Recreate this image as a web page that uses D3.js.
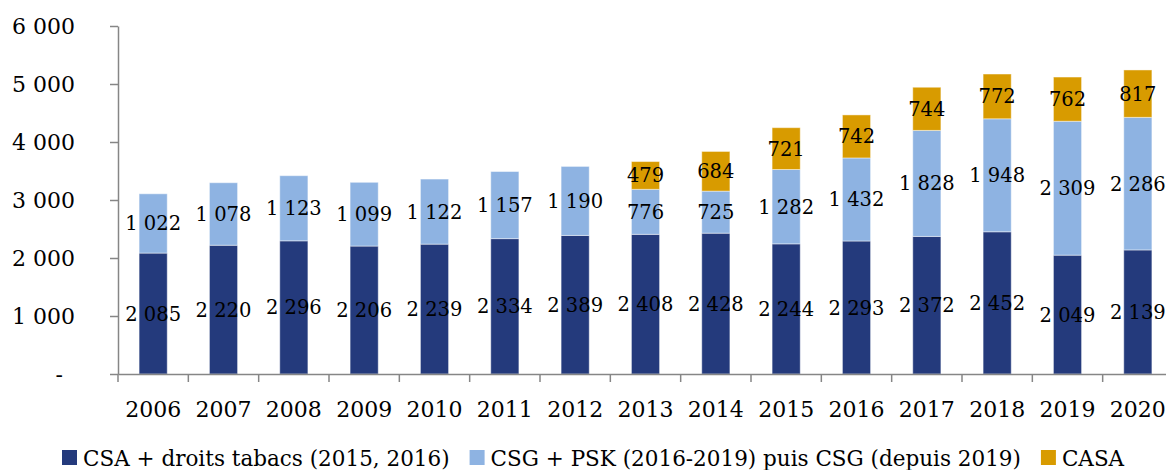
<!DOCTYPE html>
<html>
<head>
  <meta charset="utf-8">
  <script src="https://cdn.jsdelivr.net/npm/d3@7"></script>
  <style>
    body { margin: 0; background: #fff; }
    text { font-family: "DejaVu Serif", serif; fill: #000; }
    .axis path, .axis line { stroke: #868686; stroke-width: 1.5; }
  </style>
</head>
<body>
<script>
  var years = ["2006", "2007", "2008", "2009", "2010", "2011", "2012", "2013",
               "2014", "2015", "2016", "2017", "2018", "2019", "2020"];
  var csa = [2085, 2220, 2296, 2206, 2239, 2334, 2389, 2408, 2428, 2244, 2293, 2372, 2452, 2049, 2139];
  var csg = [1022, 1078, 1123, 1099, 1122, 1157, 1190, 776, 725, 1282, 1432, 1828, 1948, 2309, 2286];
  var casa = [0, 0, 0, 0, 0, 0, 0, 479, 684, 721, 742, 744, 772, 762, 817];
  var seriesNames = ["CSA + droits tabacs (2015, 2016)",
                     "CSG + PSK (2016-2019) puis CSG (depuis 2019)", "CASA"];
  var colors = ["#243a7c", "#8eb3e2", "#d89b00"];
  var yTicks = [0, 1000, 2000, 3000, 4000, 5000, 6000];

  var width = 1166, height = 470;
  var plotLeft = 118, plotRight = 1173, plotTop = 26, plotBottom = 374;

  var fr = d3.formatLocale({decimal: ",", thousands: "\u00a0", grouping: [3], currency: ["", ""]});
  var fmt = fr.format(",d");

  var svg = d3.select("body").append("svg")
    .attr("width", width)
    .attr("height", height);

  var x = d3.scaleBand()
    .domain(years)
    .range([plotLeft, plotRight])
    .paddingInner(0.6)
    .paddingOuter(0.3);

  var y = d3.scaleLinear()
    .domain([0, 6000])
    .range([plotBottom, plotTop]);

  var table = years.map(function(yr, i) {
    return {year: yr, s0: csa[i], s1: csg[i], s2: casa[i]};
  });
  var stack = d3.stack().keys(["s0", "s1", "s2"])(table);

  // y axis
  var yAxis = svg.append("g")
    .attr("class", "axis")
    .attr("transform", "translate(" + plotLeft + ",0)")
    .call(d3.axisLeft(y).tickValues(yTicks).tickSize(8).tickSizeOuter(0).tickPadding(35)
      .tickFormat(function(d) { return d === 0 ? "-" : fmt(d); }));
  yAxis.selectAll("text")
    .style("font-size", "22px")
    .attr("dy", "0.36em")
    .attr("dx", function(d) { return d === 0 ? -12 : 0; });

  // bars
  var layers = svg.append("g").selectAll("g")
    .data(stack)
    .enter().append("g")
    .attr("fill", function(d, i) { return colors[i]; });

  layers.selectAll("rect")
    .data(function(d) { return d.filter(function(p) { return p[1] - p[0] > 0; }); })
    .enter().append("rect")
    .attr("x", function(d) { return x(d.data.year); })
    .attr("width", x.bandwidth())
    .attr("y", function(d) { return y(d[1]); })
    .attr("height", function(d) { return y(d[0]) - y(d[1]); })
    .attr("stroke", "#ffffff")
    .attr("stroke-opacity", 0.45)
    .attr("stroke-width", 1);

  // data labels
  var labels = svg.append("g").selectAll("g")
    .data(stack)
    .enter().append("g");
  labels.selectAll("text")
    .data(function(d) { return d.filter(function(p) { return p[1] - p[0] > 0; }); })
    .enter().append("text")
    .attr("x", function(d) { return x(d.data.year) + x.bandwidth() / 2; })
    .attr("y", function(d) { return y((d[0] + d[1]) / 2); })
    .attr("dy", "0.36em")
    .attr("text-anchor", "middle")
    .style("font-size", "19.5px")
    .text(function(d) { return fmt(d[1] - d[0]); });

  // x axis
  var xAxis = svg.append("g")
    .attr("class", "axis")
    .attr("transform", "translate(0," + plotBottom + ")")
    .call(d3.axisBottom(x).tickSize(0).tickSizeOuter(0).tickPadding(27));
  xAxis.selectAll("text").style("font-size", "22px");

  var edges = d3.scaleLinear().domain([0, years.length]).range([plotLeft, plotRight]);
  xAxis.selectAll(".edge")
    .data(d3.range(years.length + 1))
    .enter().append("line")
    .attr("class", "edge")
    .attr("x1", function(d) { return edges(d); })
    .attr("x2", function(d) { return edges(d); })
    .attr("y1", 0)
    .attr("y2", 8);

  // legend
  var legend = svg.append("g").attr("transform", "translate(0,458)");
  var items = legend.selectAll("g")
    .data(seriesNames)
    .enter().append("g");
  items.append("rect")
    .attr("width", 15)
    .attr("height", 15)
    .attr("y", -8)
    .attr("fill", function(d, i) { return colors[i]; });
  items.append("text")
    .attr("x", 21)
    .attr("dy", "0.36em")
    .style("font-size", "21.5px")
    .text(function(d) { return d; });

  var pos = 62;
  items.attr("transform", function() {
    var t = "translate(" + pos + ",0)";
    pos += this.getBBox().width + 20;
    return t;
  });
</script>
</body>
</html>
